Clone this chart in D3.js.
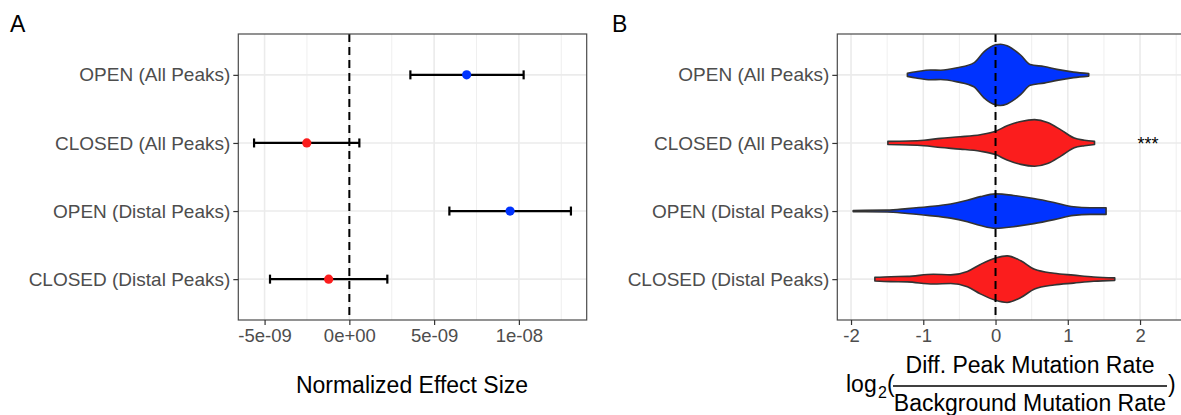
<!DOCTYPE html>
<html>
<head>
<meta charset="utf-8">
<script src="https://cdn.jsdelivr.net/npm/d3@7"></script>
<style>
  body { margin: 0; background: #fff; }
  svg { display: block; font-family: "Liberation Sans", Arial, Helvetica, sans-serif; }
</style>
</head>
<body>
<svg id="canvas" width="1181" height="415"></svg>
<script>
// categories, top to bottom
let categories = ["OPEN (All Peaks)", "CLOSED (All Peaks)", "OPEN (Distal Peaks)", "CLOSED (Distal Peaks)"]
let groups = ["open", "closed", "open", "closed"]

// panel A - effect sizes with confidence intervals
let effect = [6.92e-9, -2.51e-9, 9.48e-9, -1.22e-9]
let effectLow = [3.6e-9, -5.62e-9, 5.9e-9, -4.68e-9]
let effectHigh = [10.28e-9, 0.59e-9, 13.07e-9, 2.24e-9]
let ticksA = [-5e-9, 0, 5e-9, 1e-8]
let tickLabelsA = ["-5e-09", "0e+00", "5e-09", "1e-08"]

// panel B - violin outlines (x = log2 ratio, d = relative density)
let openAllX = [-1.22, -1.1, -0.9, -0.76, -0.53, -0.3, -0.16, 0.0, 0.07, 0.16, 0.35, 0.48, 0.67, 0.85, 1.08, 1.29]
let openAllD = [0.05, 0.1, 0.16, 0.15, 0.23, 0.39, 0.75, 0.98, 1.0, 0.95, 0.64, 0.34, 0.27, 0.18, 0.09, 0.04]
let closedAllX = [-1.49, -0.99, -0.76, -0.49, -0.21, 0, 0.16, 0.35, 0.54, 0.72, 0.91, 1.09, 1.23, 1.37]
let closedAllD = [0.05, 0.09, 0.15, 0.2, 0.27, 0.38, 0.56, 0.7, 0.76, 0.67, 0.42, 0.16, 0.09, 0.05]
let openDistalX = [-1.97, -1.5, -1.22, -0.94, -0.62, -0.39, -0.21, 0, 0.25, 0.53, 0.81, 1.08, 1.31, 1.53]
let openDistalD = [0.02, 0.03, 0.08, 0.14, 0.23, 0.35, 0.47, 0.56, 0.51, 0.41, 0.28, 0.14, 0.11, 0.11]
let closedDistalX = [-1.67, -1.45, -1.22, -0.86, -0.62, -0.39, -0.21, 0, 0.16, 0.35, 0.54, 0.81, 1.08, 1.36, 1.65]
let closedDistalD = [0.06, 0.08, 0.09, 0.16, 0.14, 0.25, 0.48, 0.69, 0.76, 0.6, 0.32, 0.19, 0.13, 0.07, 0.04]
let ticksB = [-2, -1, 0, 1, 2]
let signif = ["", "***", "", ""]
let signifX = 2.11

let colors = { open: "#0033ff", closed: "#fb1d1d" }

let violins = [
    { x: openAllX, d: openAllD },
    { x: closedAllX, d: closedAllD },
    { x: openDistalX, d: openDistalD },
    { x: closedDistalX, d: closedDistalD }
]

let canvas = d3.select("#canvas")

let plotTop = 34, plotBottom = 320

let y = d3.scalePoint()
    .domain(categories)
    .range([plotTop, plotBottom])
    .padding(0.6)

let drawPanel = (xScale, majors, minors) => {
    let [x0, x1] = xScale.range()
    let [d0, d1] = xScale.domain()
    let g = canvas.append("g")

    g.selectAll(".minor")
        .data(minors.filter(m => m > d0 && m < d1))
        .enter()
        .append("line")
        .attr("x1", d => xScale(d)).attr("x2", d => xScale(d))
        .attr("y1", plotTop).attr("y2", plotBottom)
        .attr("stroke", "#ebebeb").attr("stroke-width", 0.8)

    g.selectAll(".majorx")
        .data(majors)
        .enter()
        .append("line")
        .attr("x1", d => xScale(d)).attr("x2", d => xScale(d))
        .attr("y1", plotTop).attr("y2", plotBottom)
        .attr("stroke", "#ebebeb").attr("stroke-width", 1.6)

    g.selectAll(".majory")
        .data(categories)
        .enter()
        .append("line")
        .attr("x1", x0).attr("x2", x1)
        .attr("y1", d => y(d)).attr("y2", d => y(d))
        .attr("stroke", "#ebebeb").attr("stroke-width", 1.6)

    return g
}

let drawFrame = (xScale, tickValues, tickFormat) => {
    let [x0, x1] = xScale.range()

    canvas.append("rect")
        .attr("x", x0).attr("y", plotTop)
        .attr("width", x1 - x0).attr("height", plotBottom - plotTop)
        .attr("fill", "none")
        .attr("stroke", "#4a4a4a")
        .attr("stroke-width", 1.2)

    let xAxis = canvas.append("g")
        .attr("transform", "translate(0," + plotBottom + ")")
        .call(d3.axisBottom(xScale).tickValues(tickValues).tickFormat(tickFormat).tickSize(5).tickPadding(4))
    xAxis.select(".domain").remove()
    xAxis.selectAll("line").attr("stroke", "#333").attr("stroke-width", 1.2)
    xAxis.selectAll("text").attr("fill", "#4d4d4d").style("font-size", "18.5px")
        .attr("font-family", "Liberation Sans, Arial, sans-serif")

    let yAxis = canvas.append("g")
        .attr("transform", "translate(" + x0 + ",0)")
        .call(d3.axisLeft(y).tickSize(5).tickPadding(3))
    yAxis.select(".domain").remove()
    yAxis.selectAll("line").attr("stroke", "#333").attr("stroke-width", 1.2)
    yAxis.selectAll("text").attr("fill", "#4d4d4d").style("font-size", "19px")
        .attr("font-family", "Liberation Sans, Arial, sans-serif")
}

let zeroLine = (xScale) => {
    canvas.append("line")
        .attr("x1", xScale(0)).attr("x2", xScale(0))
        .attr("y1", plotTop).attr("y2", plotBottom)
        .attr("stroke", "#000")
        .attr("stroke-width", 2)
        .attr("stroke-dasharray", "8,5")
}

// ---------- Panel A ----------
let xA = d3.scaleLinear().domain([-6.55e-9, 14.0e-9]).range([238.3, 586.7])
let minorsA = ticksA.slice(0, -1).map((t, i) => (t + ticksA[i + 1]) / 2)
minorsA.push(ticksA[ticksA.length - 1] + 2.5e-9)
let gA = drawPanel(xA, ticksA, minorsA)

let rowsA = categories.map((c, i) => ({ cat: c, est: effect[i], lo: effectLow[i], hi: effectHigh[i], grp: groups[i] }))

gA.selectAll(".bar")
    .data(rowsA)
    .enter()
    .append("line")
    .attr("x1", d => xA(d.lo)).attr("x2", d => xA(d.hi))
    .attr("y1", d => y(d.cat)).attr("y2", d => y(d.cat))
    .attr("stroke", "#000").attr("stroke-width", 2.2)

gA.selectAll(".capl")
    .data(rowsA.flatMap(d => [{ cat: d.cat, v: d.lo }, { cat: d.cat, v: d.hi }]))
    .enter()
    .append("line")
    .attr("x1", d => xA(d.v)).attr("x2", d => xA(d.v))
    .attr("y1", d => y(d.cat) - 4.5).attr("y2", d => y(d.cat) + 4.5)
    .attr("stroke", "#000").attr("stroke-width", 2.2)

gA.selectAll(".pt")
    .data(rowsA)
    .enter()
    .append("circle")
    .attr("cx", d => xA(d.est))
    .attr("cy", d => y(d.cat))
    .attr("r", 4.6)
    .attr("fill", d => colors[d.grp])

zeroLine(xA)
drawFrame(xA, ticksA, (d, i) => tickLabelsA[i])

canvas.append("text")
    .attr("x", 412).attr("y", 393)
    .attr("text-anchor", "middle")
    .style("font-size", "23px")
    .text("Normalized Effect Size")

canvas.append("text")
    .attr("x", 10).attr("y", 31.5)
    .style("font-size", "23px")
    .text("A")

// ---------- Panel B ----------
let xB = d3.scaleLinear().domain([-2.19, 2.65]).range([837.3, 1187])
let minorsB = ticksB.map(t => t + 0.5)
minorsB.unshift(ticksB[0] - 0.5)
let gB = drawPanel(xB, ticksB, minorsB)

let halfW = d3.scaleLinear().domain([0, 1]).range([0, 0.45 * y.step()])

categories.forEach((c, i) => {
    let pts = violins[i].x.map((v, j) => ({ x: v, d: violins[i].d[j] }))
    let area = d3.area()
        .x(p => xB(p.x))
        .y0(p => y(c) + halfW(p.d))
        .y1(p => y(c) - halfW(p.d))
        .curve(d3.curveMonotoneX)
    gB.append("path")
        .attr("d", area(pts))
        .attr("fill", colors[groups[i]])
        .attr("stroke", "#333")
        .attr("stroke-width", 1.6)
        .attr("stroke-linejoin", "round")
})

gB.selectAll(".sig")
    .data(categories.map((c, i) => ({ cat: c, s: signif[i] })))
    .enter()
    .append("text")
    .attr("x", xB(signifX))
    .attr("y", d => y(d.cat) + 7)
    .attr("text-anchor", "middle")
    .style("font-size", "18px")
    .text(d => d.s)

zeroLine(xB)
drawFrame(xB, ticksB, d => String(d))

canvas.append("text")
    .attr("x", 612).attr("y", 31.5)
    .style("font-size", "23px")
    .text("B")

let title = canvas.append("g").style("font-size", "23px")
title.append("text").attr("x", 846).attr("y", 392).text("log")
title.append("text").attr("x", 878).attr("y", 398).style("font-size", "16px").text("2")
title.append("text").attr("x", 887).attr("y", 392).text("(")
title.append("text").attr("x", 1030).attr("y", 373).attr("text-anchor", "middle").text("Diff. Peak Mutation Rate")
title.append("line")
    .attr("x1", 893).attr("x2", 1167)
    .attr("y1", 386).attr("y2", 386)
    .attr("stroke", "#000").attr("stroke-width", 1.3)
title.append("text").attr("x", 1030).attr("y", 411).attr("text-anchor", "middle").text("Background Mutation Rate")
title.append("text").attr("x", 1168).attr("y", 392).text(")")
</script>
</body>
</html>
